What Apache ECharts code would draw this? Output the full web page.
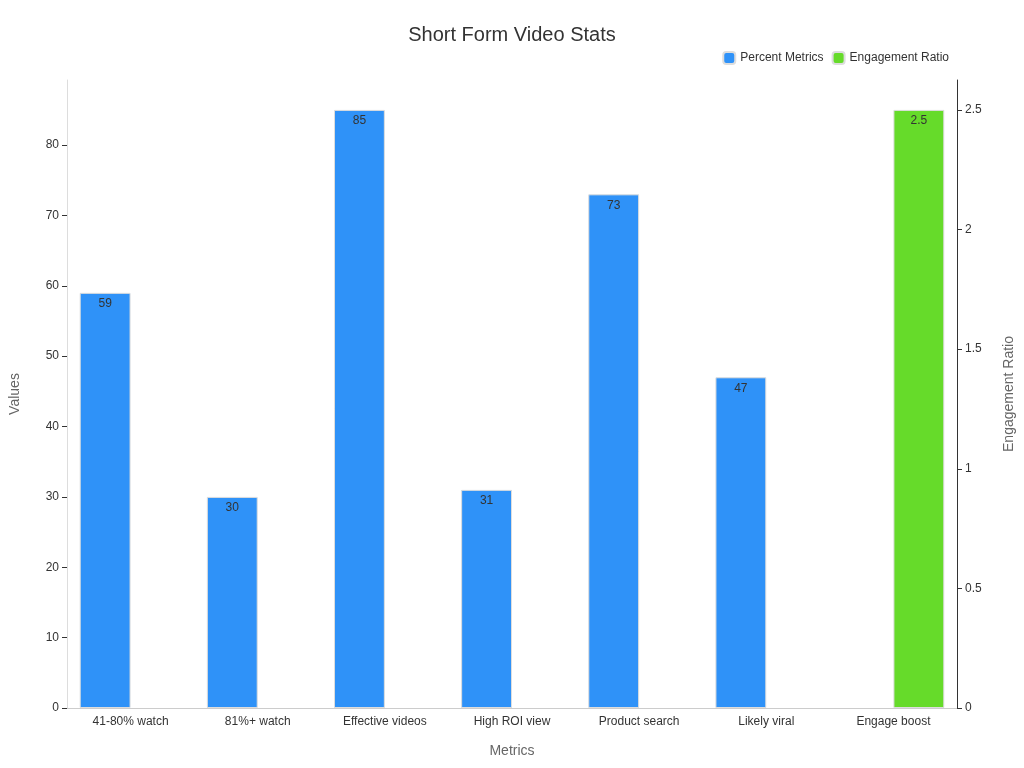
<!DOCTYPE html><html><head><meta charset="utf-8"><script src="https://cdn.jsdelivr.net/npm/echarts@6/dist/echarts.min.js"></script></head><body style="margin:0"><div id="c" style="width:1024px;height:768px"></div><script>
const categories=['41-80% watch','81%+ watch','Effective videos','High ROI view','Product search','Likely viral','Engage boost'];
const percentValues=[59,30,85,31,73,47,null];
const ratioValues=[null,null,null,null,null,null,2.5];
const ch=echarts.init(document.getElementById('c'));
const lbl={show:true,position:'insideTop',color:'#333',fontSize:12};
ch.setOption({
title:{text:'Short Form Video Stats',left:'center',top:20,textStyle:{fontSize:20,fontWeight:'normal',color:'#333'}},
legend:{right:70,top:46,itemWidth:12,itemHeight:12,textStyle:{fontSize:12,color:'#333'},data:['Percent Metrics','Engagement Ratio']},
grid:{left:60,right:65,top:80,bottom:60},
xAxis:{type:'category',data:categories,name:'Metrics',nameLocation:'middle',nameGap:36,nameTextStyle:{fontSize:14,color:'#666'},axisLabel:{color:'#333',fontSize:12},axisTick:{alignWithLabel:true},axisLine:{lineStyle:{color:'#ccc'}}},
yAxis:[{type:'value',min:0,max:89.25,interval:10,name:'Values',nameLocation:'middle',nameGap:45,nameTextStyle:{fontSize:14,color:'#666'},axisLabel:{showMaxLabel:false,color:'#333'},axisLine:{show:true,lineStyle:{color:'#ddd'}},axisTick:{show:true,lineStyle:{color:'#333'}},splitLine:{show:false}},
{type:'value',min:0,max:2.625,interval:0.5,name:'Engagement Ratio',nameLocation:'middle',nameGap:45,nameTextStyle:{fontSize:14,color:'#666'},axisLabel:{showMaxLabel:false,color:'#333'},axisLine:{show:true,lineStyle:{color:'#333'}},axisTick:{show:true,lineStyle:{color:'#333'}},splitLine:{show:false}}],
series:[{name:'Percent Metrics',type:'bar',data:percentValues,barGap:'0%',barCategoryGap:'20%',itemStyle:{color:'#2f92f8',borderColor:'#ddd',borderWidth:1},label:lbl},
{name:'Engagement Ratio',type:'bar',yAxisIndex:1,data:ratioValues,itemStyle:{color:'#66db2a',borderColor:'#ddd',borderWidth:1},label:lbl}]
});
</script></body></html>
